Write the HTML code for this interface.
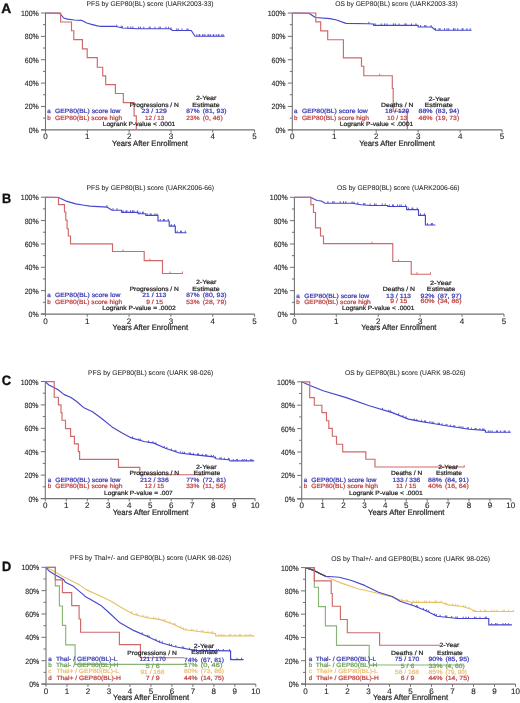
<!DOCTYPE html><html><head><meta charset="utf-8"><style>html,body{margin:0;padding:0;background:#fff;}svg{display:block;will-change:transform;}text{font-family:"Liberation Sans",sans-serif;text-rendering:geometricPrecision;}</style></head><body>
<svg width="520" height="703" viewBox="0 0 520 703">
<rect width="520" height="703" fill="#fff"/>
<text x="1.20" y="13.30" font-size="13.5" fill="#111" stroke="#111" stroke-width="0.35" font-weight="bold" textLength="10.00" lengthAdjust="spacingAndGlyphs">A</text>
<path d="M45.50 13.00V129.80" stroke="#727272" stroke-width="1.1" fill="none"/>
<path d="M41.00 129.80H45.50M43.00 118.12H45.50M41.00 106.44H45.50M43.00 94.76H45.50M41.00 83.08H45.50M43.00 71.40H45.50M41.00 59.72H45.50M43.00 48.04H45.50M41.00 36.36H45.50M43.00 24.68H45.50M41.00 13.00H45.50" stroke="#727272" stroke-width="1" fill="none"/>
<text x="38.80" y="132.80" font-size="7.7" fill="#262626" stroke="#262626" stroke-width="0.12" text-anchor="end" textLength="10.13" lengthAdjust="spacingAndGlyphs">0%</text>
<text x="38.80" y="109.44" font-size="7.7" fill="#262626" stroke="#262626" stroke-width="0.12" text-anchor="end" textLength="14.02" lengthAdjust="spacingAndGlyphs">20%</text>
<text x="38.80" y="86.08" font-size="7.7" fill="#262626" stroke="#262626" stroke-width="0.12" text-anchor="end" textLength="14.02" lengthAdjust="spacingAndGlyphs">40%</text>
<text x="38.80" y="62.72" font-size="7.7" fill="#262626" stroke="#262626" stroke-width="0.12" text-anchor="end" textLength="14.02" lengthAdjust="spacingAndGlyphs">60%</text>
<text x="38.80" y="39.36" font-size="7.7" fill="#262626" stroke="#262626" stroke-width="0.12" text-anchor="end" textLength="14.02" lengthAdjust="spacingAndGlyphs">80%</text>
<text x="38.80" y="16.00" font-size="7.7" fill="#262626" stroke="#262626" stroke-width="0.12" text-anchor="end" textLength="17.92" lengthAdjust="spacingAndGlyphs">100%</text>
<path d="M41.00 129.80H254.60" stroke="#727272" stroke-width="1.25" fill="none"/>
<path d="M45.50 129.80V132.60M87.32 129.80V132.60M129.14 129.80V132.60M170.96 129.80V132.60M212.78 129.80V132.60M254.60 129.80V132.60" stroke="#727272" stroke-width="1" fill="none"/>
<text x="45.50" y="139.30" font-size="8.0" fill="#262626" stroke="#262626" stroke-width="0.12" text-anchor="middle">0</text>
<text x="87.32" y="139.30" font-size="8.0" fill="#262626" stroke="#262626" stroke-width="0.12" text-anchor="middle">1</text>
<text x="129.14" y="139.30" font-size="8.0" fill="#262626" stroke="#262626" stroke-width="0.12" text-anchor="middle">2</text>
<text x="170.96" y="139.30" font-size="8.0" fill="#262626" stroke="#262626" stroke-width="0.12" text-anchor="middle">3</text>
<text x="212.78" y="139.30" font-size="8.0" fill="#262626" stroke="#262626" stroke-width="0.12" text-anchor="middle">4</text>
<text x="254.60" y="139.30" font-size="8.0" fill="#262626" stroke="#262626" stroke-width="0.12" text-anchor="middle">5</text>
<text x="86.50" y="6.00" font-size="6.8" fill="#262626" stroke="#262626" stroke-width="0.05" textLength="127.00" lengthAdjust="spacingAndGlyphs">PFS by GEP80(BL) score (UARK2003-33)</text>
<path d="M45.50 13.00 L59.80 13.30 L63.70 18.00 L67.50 19.10 L74.20 20.00 L81.90 20.40 L86.70 23.00 L91.50 24.40 L97.30 25.90 L100.20 26.30 L115.00 26.30 L122.50 28.00 L137.50 28.70 L170.00 28.70 L172.50 30.50 L191.30 30.50 L195.00 36.20 L224.70 36.20" stroke="#4646cc" stroke-width="1.15" fill="none" stroke-linejoin="round"/>
<path d="M116.73 26.69V24.69M121.13 27.69V25.69M122.37 27.97V25.97M127.83 28.25V26.25M130.83 28.39V26.39M132.88 28.48V26.48M138.66 28.70V26.70M140.42 28.70V26.70M143.81 28.70V26.70M149.05 28.70V26.70M150.19 28.70V26.70M154.94 28.70V26.70M158.98 28.70V26.70M160.36 28.70V26.70M165.99 28.70V26.70M168.62 28.70V26.70M171.00 29.42V27.42M176.71 30.50V28.50M178.23 30.50V28.50M182.01 30.50V28.50M186.97 30.50V28.50M188.09 30.50V28.50" stroke="#4646cc" stroke-width="0.9" fill="none"/>
<path d="M196.88 36.20V34.20M199.11 36.20V34.20M199.73 36.20V34.20M202.50 36.20V34.20M204.02 36.20V34.20M205.06 36.20V34.20M207.99 36.20V34.20M208.88 36.20V34.20M210.59 36.20V34.20M213.25 36.20V34.20M213.83 36.20V34.20M216.23 36.20V34.20M218.28 36.20V34.20M218.98 36.20V34.20M221.83 36.20V34.20M223.16 36.20V34.20" stroke="#4646cc" stroke-width="0.9" fill="none"/>
<path d="M45.50 13.00H60.60V22.00H71.50V30.70H73.80V39.60H82.40V48.90H87.20V57.60H97.30V67.20H102.70V75.80H105.70V84.60H115.40V93.50H123.30V102.60H134.10V115.90H136.30V129.50H136.30" stroke="#cf6868" stroke-width="1.15" fill="none"/>
<text x="195.90" y="100.30" font-size="6.2" fill="#262626" stroke="#262626" stroke-width="0.22" textLength="20.50" lengthAdjust="spacingAndGlyphs">2-Year</text>
<text x="129.70" y="106.90" font-size="6.2" fill="#262626" stroke="#262626" stroke-width="0.22" textLength="49.20" lengthAdjust="spacingAndGlyphs">Progressions / N</text>
<text x="192.30" y="106.90" font-size="6.2" fill="#262626" stroke="#262626" stroke-width="0.22" textLength="27.30" lengthAdjust="spacingAndGlyphs">Estimate</text>
<text x="47.30" y="113.20" font-size="6.2" fill="#3838b4" stroke="#3838b4" stroke-width="0.22">a</text>
<text x="55.00" y="113.20" font-size="6.2" fill="#3838b4" stroke="#3838b4" stroke-width="0.22" textLength="65.40" lengthAdjust="spacingAndGlyphs">GEP80(BL) score low</text>
<text x="141.50" y="113.40" font-size="6.2" fill="#3838b4" stroke="#3838b4" stroke-width="0.22" textLength="25.40" lengthAdjust="spacingAndGlyphs">23 / 129</text>
<text x="186.30" y="113.40" font-size="6.2" fill="#3838b4" stroke="#3838b4" stroke-width="0.22" textLength="13.20" lengthAdjust="spacingAndGlyphs">87%</text>
<text x="202.80" y="113.40" font-size="6.2" fill="#3838b4" stroke="#3838b4" stroke-width="0.22" textLength="23.70" lengthAdjust="spacingAndGlyphs">(81, 93)</text>
<text x="47.30" y="120.00" font-size="6.2" fill="#c04242" stroke="#c04242" stroke-width="0.22">b</text>
<text x="55.00" y="120.00" font-size="6.2" fill="#c04242" stroke="#c04242" stroke-width="0.22" textLength="67.30" lengthAdjust="spacingAndGlyphs">GEP80(BL) score high</text>
<text x="145.10" y="120.30" font-size="6.2" fill="#c04242" stroke="#c04242" stroke-width="0.22" textLength="19.00" lengthAdjust="spacingAndGlyphs">12 / 13</text>
<text x="186.30" y="120.30" font-size="6.2" fill="#c04242" stroke="#c04242" stroke-width="0.22" textLength="13.20" lengthAdjust="spacingAndGlyphs">23%</text>
<text x="202.80" y="120.30" font-size="6.2" fill="#c04242" stroke="#c04242" stroke-width="0.22" textLength="19.90" lengthAdjust="spacingAndGlyphs">(0, 46)</text>
<text x="102.70" y="126.30" font-size="6.2" fill="#262626" stroke="#262626" stroke-width="0.22" textLength="72.60" lengthAdjust="spacingAndGlyphs">Logrank P-value &lt; .0001</text>
<text x="112.10" y="145.80" font-size="8" fill="#262626" stroke="#262626" stroke-width="0.22" textLength="75.80" lengthAdjust="spacingAndGlyphs">Years After Enrollment</text>
<path d="M292.30 13.00V129.80" stroke="#727272" stroke-width="1.1" fill="none"/>
<path d="M287.80 129.80H292.30M289.80 118.12H292.30M287.80 106.44H292.30M289.80 94.76H292.30M287.80 83.08H292.30M289.80 71.40H292.30M287.80 59.72H292.30M289.80 48.04H292.30M287.80 36.36H292.30M289.80 24.68H292.30M287.80 13.00H292.30" stroke="#727272" stroke-width="1" fill="none"/>
<text x="285.60" y="132.80" font-size="7.7" fill="#262626" stroke="#262626" stroke-width="0.12" text-anchor="end" textLength="10.13" lengthAdjust="spacingAndGlyphs">0%</text>
<text x="285.60" y="109.44" font-size="7.7" fill="#262626" stroke="#262626" stroke-width="0.12" text-anchor="end" textLength="14.02" lengthAdjust="spacingAndGlyphs">20%</text>
<text x="285.60" y="86.08" font-size="7.7" fill="#262626" stroke="#262626" stroke-width="0.12" text-anchor="end" textLength="14.02" lengthAdjust="spacingAndGlyphs">40%</text>
<text x="285.60" y="62.72" font-size="7.7" fill="#262626" stroke="#262626" stroke-width="0.12" text-anchor="end" textLength="14.02" lengthAdjust="spacingAndGlyphs">60%</text>
<text x="285.60" y="39.36" font-size="7.7" fill="#262626" stroke="#262626" stroke-width="0.12" text-anchor="end" textLength="14.02" lengthAdjust="spacingAndGlyphs">80%</text>
<text x="285.60" y="16.00" font-size="7.7" fill="#262626" stroke="#262626" stroke-width="0.12" text-anchor="end" textLength="17.92" lengthAdjust="spacingAndGlyphs">100%</text>
<path d="M287.80 129.80H502.10" stroke="#727272" stroke-width="1.25" fill="none"/>
<path d="M292.30 129.80V132.60M334.26 129.80V132.60M376.22 129.80V132.60M418.18 129.80V132.60M460.14 129.80V132.60M502.10 129.80V132.60" stroke="#727272" stroke-width="1" fill="none"/>
<text x="292.30" y="139.30" font-size="8.0" fill="#262626" stroke="#262626" stroke-width="0.12" text-anchor="middle">0</text>
<text x="334.26" y="139.30" font-size="8.0" fill="#262626" stroke="#262626" stroke-width="0.12" text-anchor="middle">1</text>
<text x="376.22" y="139.30" font-size="8.0" fill="#262626" stroke="#262626" stroke-width="0.12" text-anchor="middle">2</text>
<text x="418.18" y="139.30" font-size="8.0" fill="#262626" stroke="#262626" stroke-width="0.12" text-anchor="middle">3</text>
<text x="460.14" y="139.30" font-size="8.0" fill="#262626" stroke="#262626" stroke-width="0.12" text-anchor="middle">4</text>
<text x="502.10" y="139.30" font-size="8.0" fill="#262626" stroke="#262626" stroke-width="0.12" text-anchor="middle">5</text>
<text x="335.20" y="6.00" font-size="6.8" fill="#262626" stroke="#262626" stroke-width="0.05" textLength="122.50" lengthAdjust="spacingAndGlyphs">OS by GEP80(BL) score (UARK2003-33)</text>
<path d="M292.30 13.00 L309.00 13.20 L315.40 17.50 L330.00 18.60 L336.50 20.00 L346.00 23.40 L368.30 23.80 L373.00 24.00 L373.70 25.40 L418.20 25.40 L418.20 27.00 L431.60 27.00 L435.70 30.20 L471.50 30.20" stroke="#4646cc" stroke-width="1.15" fill="none" stroke-linejoin="round"/>
<path d="M368.92 23.83V21.83M373.83 25.40V23.40M375.20 25.40V23.40M381.28 25.40V23.40M384.62 25.40V23.40M386.91 25.40V23.40M393.34 25.40V23.40M395.30 25.40V23.40M399.07 25.40V23.40M404.91 25.40V23.40M406.18 25.40V23.40M411.47 25.40V23.40M415.97 25.40V23.40" stroke="#4646cc" stroke-width="0.9" fill="none"/>
<path d="M420.62 27.00V25.00M424.77 27.00V25.00M425.93 27.00V25.00M431.07 27.00V25.00" stroke="#4646cc" stroke-width="0.9" fill="none"/>
<path d="M435.42 29.98V27.98M439.05 30.20V28.20M440.07 30.20V28.20M444.57 30.20V28.20M447.04 30.20V28.20M448.73 30.20V28.20M453.49 30.20V28.20M454.94 30.20V28.20M457.73 30.20V28.20M462.05 30.20V28.20M462.99 30.20V28.20M466.91 30.20V28.20M470.23 30.20V28.20" stroke="#4646cc" stroke-width="0.9" fill="none"/>
<path d="M292.30 13.00H315.80V21.80H320.70V30.80H327.70V39.70H343.40V57.90H361.50V66.20H363.80V75.70H392.30V88.50H393.20V111.20H407.30V129.50H407.30" stroke="#cf6868" stroke-width="1.15" fill="none"/>
<path d="M379.70 75.70V73.70" stroke="#cf6868" stroke-width="0.9" fill="none"/>
<text x="428.50" y="100.60" font-size="6.2" fill="#262626" stroke="#262626" stroke-width="0.22" textLength="21.20" lengthAdjust="spacingAndGlyphs">2-Year</text>
<text x="381.00" y="107.10" font-size="6.2" fill="#262626" stroke="#262626" stroke-width="0.22" textLength="32.40" lengthAdjust="spacingAndGlyphs">Deaths / N</text>
<text x="424.50" y="107.10" font-size="6.2" fill="#262626" stroke="#262626" stroke-width="0.22" textLength="28.30" lengthAdjust="spacingAndGlyphs">Estimate</text>
<text x="294.00" y="113.10" font-size="6.2" fill="#3838b4" stroke="#3838b4" stroke-width="0.22">a</text>
<text x="301.90" y="113.10" font-size="6.2" fill="#3838b4" stroke="#3838b4" stroke-width="0.22" textLength="65.80" lengthAdjust="spacingAndGlyphs">GEP80(BL) score low</text>
<text x="385.10" y="113.10" font-size="6.2" fill="#3838b4" stroke="#3838b4" stroke-width="0.22" textLength="24.20" lengthAdjust="spacingAndGlyphs">18 / 129</text>
<text x="418.60" y="113.20" font-size="6.2" fill="#3838b4" stroke="#3838b4" stroke-width="0.22" textLength="14.00" lengthAdjust="spacingAndGlyphs">88%</text>
<text x="435.60" y="113.20" font-size="6.2" fill="#3838b4" stroke="#3838b4" stroke-width="0.22" textLength="23.60" lengthAdjust="spacingAndGlyphs">(83, 94)</text>
<text x="294.00" y="119.50" font-size="6.2" fill="#c04242" stroke="#c04242" stroke-width="0.22">b</text>
<text x="301.90" y="119.50" font-size="6.2" fill="#c04242" stroke="#c04242" stroke-width="0.22" textLength="67.10" lengthAdjust="spacingAndGlyphs">GEP80(BL) score high</text>
<text x="387.10" y="119.50" font-size="6.2" fill="#c04242" stroke="#c04242" stroke-width="0.22" textLength="20.20" lengthAdjust="spacingAndGlyphs">10 / 13</text>
<text x="418.60" y="119.50" font-size="6.2" fill="#c04242" stroke="#c04242" stroke-width="0.22" textLength="14.00" lengthAdjust="spacingAndGlyphs">46%</text>
<text x="435.60" y="119.50" font-size="6.2" fill="#c04242" stroke="#c04242" stroke-width="0.22" textLength="23.60" lengthAdjust="spacingAndGlyphs">(19, 73)</text>
<text x="339.70" y="125.80" font-size="6.2" fill="#262626" stroke="#262626" stroke-width="0.22" textLength="73.70" lengthAdjust="spacingAndGlyphs">Logrank P-value &lt; .0001</text>
<text x="359.20" y="145.80" font-size="8" fill="#262626" stroke="#262626" stroke-width="0.22" textLength="75.80" lengthAdjust="spacingAndGlyphs">Years After Enrollment</text>
<text x="1.90" y="202.60" font-size="13.5" fill="#111" stroke="#111" stroke-width="0.3" font-weight="bold" textLength="9.20" lengthAdjust="spacingAndGlyphs">B</text>
<path d="M45.40 197.20V314.00" stroke="#727272" stroke-width="1.1" fill="none"/>
<path d="M40.90 314.00H45.40M42.90 302.32H45.40M40.90 290.64H45.40M42.90 278.96H45.40M40.90 267.28H45.40M42.90 255.60H45.40M40.90 243.92H45.40M42.90 232.24H45.40M40.90 220.56H45.40M42.90 208.88H45.40M40.90 197.20H45.40" stroke="#727272" stroke-width="1" fill="none"/>
<text x="38.70" y="317.00" font-size="7.7" fill="#262626" stroke="#262626" stroke-width="0.12" text-anchor="end" textLength="10.13" lengthAdjust="spacingAndGlyphs">0%</text>
<text x="38.70" y="293.64" font-size="7.7" fill="#262626" stroke="#262626" stroke-width="0.12" text-anchor="end" textLength="14.02" lengthAdjust="spacingAndGlyphs">20%</text>
<text x="38.70" y="270.28" font-size="7.7" fill="#262626" stroke="#262626" stroke-width="0.12" text-anchor="end" textLength="14.02" lengthAdjust="spacingAndGlyphs">40%</text>
<text x="38.70" y="246.92" font-size="7.7" fill="#262626" stroke="#262626" stroke-width="0.12" text-anchor="end" textLength="14.02" lengthAdjust="spacingAndGlyphs">60%</text>
<text x="38.70" y="223.56" font-size="7.7" fill="#262626" stroke="#262626" stroke-width="0.12" text-anchor="end" textLength="14.02" lengthAdjust="spacingAndGlyphs">80%</text>
<text x="38.70" y="200.20" font-size="7.7" fill="#262626" stroke="#262626" stroke-width="0.12" text-anchor="end" textLength="17.92" lengthAdjust="spacingAndGlyphs">100%</text>
<path d="M40.90 314.00H254.60" stroke="#727272" stroke-width="1.25" fill="none"/>
<path d="M45.40 314.00V316.80M87.24 314.00V316.80M129.08 314.00V316.80M170.92 314.00V316.80M212.76 314.00V316.80M254.60 314.00V316.80" stroke="#727272" stroke-width="1" fill="none"/>
<text x="45.40" y="323.50" font-size="8.0" fill="#262626" stroke="#262626" stroke-width="0.12" text-anchor="middle">0</text>
<text x="87.24" y="323.50" font-size="8.0" fill="#262626" stroke="#262626" stroke-width="0.12" text-anchor="middle">1</text>
<text x="129.08" y="323.50" font-size="8.0" fill="#262626" stroke="#262626" stroke-width="0.12" text-anchor="middle">2</text>
<text x="170.92" y="323.50" font-size="8.0" fill="#262626" stroke="#262626" stroke-width="0.12" text-anchor="middle">3</text>
<text x="212.76" y="323.50" font-size="8.0" fill="#262626" stroke="#262626" stroke-width="0.12" text-anchor="middle">4</text>
<text x="254.60" y="323.50" font-size="8.0" fill="#262626" stroke="#262626" stroke-width="0.12" text-anchor="middle">5</text>
<text x="86.50" y="189.80" font-size="6.8" fill="#262626" stroke="#262626" stroke-width="0.05" textLength="127.60" lengthAdjust="spacingAndGlyphs">PFS by GEP80(BL) score (UARK2006-66)</text>
<path d="M45.40 197.30 L58.50 197.50 L67.10 201.40 L75.60 203.90 L84.10 205.20 L90.00 206.10 L106.90 207.10 L112.10 210.20 L121.60 210.20 L121.60 212.30 L138.10 212.30 L138.10 213.70 L145.80 213.70 L145.80 215.40 L158.00 215.40 L158.00 221.00 L169.20 221.00 L169.20 226.10 L175.30 226.10 L175.30 232.70 L186.50 232.70" stroke="#4646cc" stroke-width="1.15" fill="none" stroke-linejoin="round"/>
<path d="M106.90 207.10V205.10M113.00 210.20V208.20M117.00 210.20V208.20" stroke="#4646cc" stroke-width="0.9" fill="none"/>
<path d="M123.14 212.30V210.30M126.06 212.30V210.30M126.87 212.30V210.30M130.49 212.30V210.30M132.47 212.30V210.30M133.83 212.30V210.30M137.66 212.30V210.30" stroke="#4646cc" stroke-width="0.9" fill="none"/>
<path d="M140.00 213.70V211.70M142.55 213.70V211.70M143.26 213.70V211.70" stroke="#4646cc" stroke-width="0.9" fill="none"/>
<path d="M147.20 215.40V213.40M150.26 215.40V213.40M151.12 215.40V213.40M154.91 215.40V213.40M157.00 215.40V213.40" stroke="#4646cc" stroke-width="0.9" fill="none"/>
<path d="M160.25 221.00V219.00M163.44 221.00V219.00M164.33 221.00V219.00M168.29 221.00V219.00" stroke="#4646cc" stroke-width="0.9" fill="none"/>
<path d="M171.25 226.10V224.10M174.44 226.10V224.10" stroke="#4646cc" stroke-width="0.9" fill="none"/>
<path d="M177.25 232.70V230.70M180.44 232.70V230.70M181.33 232.70V230.70M185.29 232.70V230.70" stroke="#4646cc" stroke-width="0.9" fill="none"/>
<path d="M45.40 197.30H58.50V204.60H64.50V212.00H65.80V220.20H67.10V228.70H68.30V236.00H70.50V243.80H112.50V251.50H144.20V260.60H162.50V273.50H182.70" stroke="#cf6868" stroke-width="1.15" fill="none"/>
<path d="M123.00 251.50V249.50M150.00 260.60V258.60M170.00 273.50V271.50M182.50 273.50V271.50" stroke="#cf6868" stroke-width="0.9" fill="none"/>
<text x="195.90" y="284.10" font-size="6.2" fill="#262626" stroke="#262626" stroke-width="0.22" textLength="20.50" lengthAdjust="spacingAndGlyphs">2-Year</text>
<text x="129.70" y="290.70" font-size="6.2" fill="#262626" stroke="#262626" stroke-width="0.22" textLength="49.20" lengthAdjust="spacingAndGlyphs">Progressions / N</text>
<text x="192.30" y="290.70" font-size="6.2" fill="#262626" stroke="#262626" stroke-width="0.22" textLength="27.30" lengthAdjust="spacingAndGlyphs">Estimate</text>
<text x="47.30" y="297.00" font-size="6.2" fill="#3838b4" stroke="#3838b4" stroke-width="0.22">a</text>
<text x="55.00" y="297.00" font-size="6.2" fill="#3838b4" stroke="#3838b4" stroke-width="0.22" textLength="65.40" lengthAdjust="spacingAndGlyphs">GEP80(BL) score low</text>
<text x="142.30" y="297.20" font-size="6.2" fill="#3838b4" stroke="#3838b4" stroke-width="0.22" textLength="24.00" lengthAdjust="spacingAndGlyphs">21 / 113</text>
<text x="186.30" y="297.20" font-size="6.2" fill="#3838b4" stroke="#3838b4" stroke-width="0.22" textLength="13.20" lengthAdjust="spacingAndGlyphs">87%</text>
<text x="202.80" y="297.20" font-size="6.2" fill="#3838b4" stroke="#3838b4" stroke-width="0.22" textLength="23.70" lengthAdjust="spacingAndGlyphs">(80, 93)</text>
<text x="47.30" y="303.80" font-size="6.2" fill="#c04242" stroke="#c04242" stroke-width="0.22">b</text>
<text x="55.00" y="303.80" font-size="6.2" fill="#c04242" stroke="#c04242" stroke-width="0.22" textLength="67.30" lengthAdjust="spacingAndGlyphs">GEP80(BL) score high</text>
<text x="146.20" y="304.10" font-size="6.2" fill="#c04242" stroke="#c04242" stroke-width="0.22" textLength="16.90" lengthAdjust="spacingAndGlyphs">9 / 15</text>
<text x="186.30" y="304.10" font-size="6.2" fill="#c04242" stroke="#c04242" stroke-width="0.22" textLength="13.20" lengthAdjust="spacingAndGlyphs">53%</text>
<text x="202.80" y="304.10" font-size="6.2" fill="#c04242" stroke="#c04242" stroke-width="0.22" textLength="23.70" lengthAdjust="spacingAndGlyphs">(28, 79)</text>
<text x="102.30" y="310.10" font-size="6.2" fill="#262626" stroke="#262626" stroke-width="0.22" textLength="73.50" lengthAdjust="spacingAndGlyphs">Logrank P-value = .0002</text>
<text x="112.50" y="329.60" font-size="8" fill="#262626" stroke="#262626" stroke-width="0.22" textLength="75.60" lengthAdjust="spacingAndGlyphs">Years After Enrollment</text>
<path d="M294.40 197.30V314.00" stroke="#727272" stroke-width="1.1" fill="none"/>
<path d="M289.90 314.00H294.40M291.90 302.33H294.40M289.90 290.66H294.40M291.90 278.99H294.40M289.90 267.32H294.40M291.90 255.65H294.40M289.90 243.98H294.40M291.90 232.31H294.40M289.90 220.64H294.40M291.90 208.97H294.40M289.90 197.30H294.40" stroke="#727272" stroke-width="1" fill="none"/>
<text x="287.70" y="317.00" font-size="7.7" fill="#262626" stroke="#262626" stroke-width="0.12" text-anchor="end" textLength="10.13" lengthAdjust="spacingAndGlyphs">0%</text>
<text x="287.70" y="293.66" font-size="7.7" fill="#262626" stroke="#262626" stroke-width="0.12" text-anchor="end" textLength="14.02" lengthAdjust="spacingAndGlyphs">20%</text>
<text x="287.70" y="270.32" font-size="7.7" fill="#262626" stroke="#262626" stroke-width="0.12" text-anchor="end" textLength="14.02" lengthAdjust="spacingAndGlyphs">40%</text>
<text x="287.70" y="246.98" font-size="7.7" fill="#262626" stroke="#262626" stroke-width="0.12" text-anchor="end" textLength="14.02" lengthAdjust="spacingAndGlyphs">60%</text>
<text x="287.70" y="223.64" font-size="7.7" fill="#262626" stroke="#262626" stroke-width="0.12" text-anchor="end" textLength="14.02" lengthAdjust="spacingAndGlyphs">80%</text>
<text x="287.70" y="200.30" font-size="7.7" fill="#262626" stroke="#262626" stroke-width="0.12" text-anchor="end" textLength="17.92" lengthAdjust="spacingAndGlyphs">100%</text>
<path d="M289.90 314.00H504.00" stroke="#727272" stroke-width="1.25" fill="none"/>
<path d="M294.40 314.00V316.80M336.32 314.00V316.80M378.24 314.00V316.80M420.16 314.00V316.80M462.08 314.00V316.80M504.00 314.00V316.80" stroke="#727272" stroke-width="1" fill="none"/>
<text x="294.40" y="323.50" font-size="8.0" fill="#262626" stroke="#262626" stroke-width="0.12" text-anchor="middle">0</text>
<text x="336.32" y="323.50" font-size="8.0" fill="#262626" stroke="#262626" stroke-width="0.12" text-anchor="middle">1</text>
<text x="378.24" y="323.50" font-size="8.0" fill="#262626" stroke="#262626" stroke-width="0.12" text-anchor="middle">2</text>
<text x="420.16" y="323.50" font-size="8.0" fill="#262626" stroke="#262626" stroke-width="0.12" text-anchor="middle">3</text>
<text x="462.08" y="323.50" font-size="8.0" fill="#262626" stroke="#262626" stroke-width="0.12" text-anchor="middle">4</text>
<text x="504.00" y="323.50" font-size="8.0" fill="#262626" stroke="#262626" stroke-width="0.12" text-anchor="middle">5</text>
<text x="337.10" y="189.80" font-size="6.8" fill="#262626" stroke="#262626" stroke-width="0.05" textLength="122.50" lengthAdjust="spacingAndGlyphs">OS by GEP80(BL) score (UARK2006-66)</text>
<path d="M294.40 197.30 L310.90 197.40 L317.10 200.50 L321.30 201.00 L324.70 203.10 L352.00 203.30 L361.40 204.80 L370.00 205.50 L387.70 205.50 L387.70 206.50 L406.60 206.50 L406.60 209.60 L418.50 209.60 L418.50 215.30 L425.40 215.30 L425.40 225.00 L435.40 225.00" stroke="#4646cc" stroke-width="1.15" fill="none" stroke-linejoin="round"/>
<path d="M327.91 203.12V201.12M332.77 203.16V201.16M334.13 203.17V201.17M340.16 203.21V201.21M343.47 203.24V201.24M345.73 203.25V201.25M352.11 203.32V201.32M354.05 203.63V201.63M357.79 204.22V202.22M363.57 204.98V202.98M364.84 205.08V203.08M370.08 205.50V203.50M374.54 205.50V203.50M376.06 205.50V203.50M382.28 205.50V203.50M385.17 205.50V203.50" stroke="#4646cc" stroke-width="0.9" fill="none"/>
<path d="M389.29 206.50V204.50M392.57 206.50V204.50M393.48 206.50V204.50M397.55 206.50V204.50M399.78 206.50V204.50M401.31 206.50V204.50M405.61 206.50V204.50" stroke="#4646cc" stroke-width="0.9" fill="none"/>
<path d="M408.38 209.60V207.60M411.88 209.60V207.60M412.86 209.60V207.60M417.21 209.60V207.60" stroke="#4646cc" stroke-width="0.9" fill="none"/>
<path d="M420.50 215.30V213.30M424.33 215.30V213.30" stroke="#4646cc" stroke-width="0.9" fill="none"/>
<path d="M427.50 225.00V223.00M431.33 225.00V223.00M432.40 225.00V223.00" stroke="#4646cc" stroke-width="0.9" fill="none"/>
<path d="M294.40 197.30H310.90V204.60H313.50V212.50H315.50V227.80H320.50V236.00H323.50V243.60H392.80V261.50H411.20V274.20H430.80" stroke="#cf6868" stroke-width="1.15" fill="none"/>
<path d="M372.00 243.60V241.60M398.50 261.50V259.50M417.00 274.20V272.20M430.50 274.20V272.20" stroke="#cf6868" stroke-width="0.9" fill="none"/>
<text x="430.00" y="284.80" font-size="6.2" fill="#262626" stroke="#262626" stroke-width="0.22" textLength="21.40" lengthAdjust="spacingAndGlyphs">2-Year</text>
<text x="382.70" y="291.10" font-size="6.2" fill="#262626" stroke="#262626" stroke-width="0.22" textLength="32.30" lengthAdjust="spacingAndGlyphs">Deaths / N</text>
<text x="426.80" y="291.10" font-size="6.2" fill="#262626" stroke="#262626" stroke-width="0.22" textLength="28.40" lengthAdjust="spacingAndGlyphs">Estimate</text>
<text x="296.20" y="297.70" font-size="6.2" fill="#3838b4" stroke="#3838b4" stroke-width="0.22">a</text>
<text x="304.20" y="297.70" font-size="6.2" fill="#3838b4" stroke="#3838b4" stroke-width="0.22" textLength="65.00" lengthAdjust="spacingAndGlyphs">GEP80(BL) score low</text>
<text x="386.10" y="297.50" font-size="6.2" fill="#3838b4" stroke="#3838b4" stroke-width="0.22" textLength="24.90" lengthAdjust="spacingAndGlyphs">13 / 113</text>
<text x="420.60" y="297.60" font-size="6.2" fill="#3838b4" stroke="#3838b4" stroke-width="0.22" textLength="14.00" lengthAdjust="spacingAndGlyphs">92%</text>
<text x="437.60" y="297.60" font-size="6.2" fill="#3838b4" stroke="#3838b4" stroke-width="0.22" textLength="23.90" lengthAdjust="spacingAndGlyphs">(87, 97)</text>
<text x="296.20" y="303.50" font-size="6.2" fill="#c04242" stroke="#c04242" stroke-width="0.22">b</text>
<text x="304.20" y="303.50" font-size="6.2" fill="#c04242" stroke="#c04242" stroke-width="0.22" textLength="66.60" lengthAdjust="spacingAndGlyphs">GEP80(BL) score high</text>
<text x="390.20" y="303.40" font-size="6.2" fill="#c04242" stroke="#c04242" stroke-width="0.22" textLength="17.10" lengthAdjust="spacingAndGlyphs">9 / 15</text>
<text x="420.60" y="303.40" font-size="6.2" fill="#c04242" stroke="#c04242" stroke-width="0.22" textLength="14.00" lengthAdjust="spacingAndGlyphs">60%</text>
<text x="437.60" y="303.40" font-size="6.2" fill="#c04242" stroke="#c04242" stroke-width="0.22" textLength="23.90" lengthAdjust="spacingAndGlyphs">(34, 86)</text>
<text x="342.10" y="310.30" font-size="6.2" fill="#262626" stroke="#262626" stroke-width="0.22" textLength="72.30" lengthAdjust="spacingAndGlyphs">Logrank P-value &lt; .0001</text>
<text x="361.20" y="329.60" font-size="8" fill="#262626" stroke="#262626" stroke-width="0.22" textLength="75.30" lengthAdjust="spacingAndGlyphs">Years After Enrollment</text>
<text x="1.70" y="385.20" font-size="13.5" fill="#111" stroke="#111" stroke-width="0.35" font-weight="bold" textLength="9.30" lengthAdjust="spacingAndGlyphs">C</text>
<path d="M45.30 381.50V498.50" stroke="#727272" stroke-width="1.1" fill="none"/>
<path d="M40.80 498.50H45.30M42.80 486.80H45.30M40.80 475.10H45.30M42.80 463.40H45.30M40.80 451.70H45.30M42.80 440.00H45.30M40.80 428.30H45.30M42.80 416.60H45.30M40.80 404.90H45.30M42.80 393.20H45.30M40.80 381.50H45.30" stroke="#727272" stroke-width="1" fill="none"/>
<text x="38.60" y="501.50" font-size="7.7" fill="#262626" stroke="#262626" stroke-width="0.12" text-anchor="end" textLength="10.13" lengthAdjust="spacingAndGlyphs">0%</text>
<text x="38.60" y="478.10" font-size="7.7" fill="#262626" stroke="#262626" stroke-width="0.12" text-anchor="end" textLength="14.02" lengthAdjust="spacingAndGlyphs">20%</text>
<text x="38.60" y="454.70" font-size="7.7" fill="#262626" stroke="#262626" stroke-width="0.12" text-anchor="end" textLength="14.02" lengthAdjust="spacingAndGlyphs">40%</text>
<text x="38.60" y="431.30" font-size="7.7" fill="#262626" stroke="#262626" stroke-width="0.12" text-anchor="end" textLength="14.02" lengthAdjust="spacingAndGlyphs">60%</text>
<text x="38.60" y="407.90" font-size="7.7" fill="#262626" stroke="#262626" stroke-width="0.12" text-anchor="end" textLength="14.02" lengthAdjust="spacingAndGlyphs">80%</text>
<text x="38.60" y="384.50" font-size="7.7" fill="#262626" stroke="#262626" stroke-width="0.12" text-anchor="end" textLength="17.92" lengthAdjust="spacingAndGlyphs">100%</text>
<path d="M40.80 498.50H255.10" stroke="#727272" stroke-width="1.25" fill="none"/>
<path d="M45.30 498.50V501.30M66.28 498.50V501.30M87.26 498.50V501.30M108.24 498.50V501.30M129.22 498.50V501.30M150.20 498.50V501.30M171.18 498.50V501.30M192.16 498.50V501.30M213.14 498.50V501.30M234.12 498.50V501.30M255.10 498.50V501.30" stroke="#727272" stroke-width="1" fill="none"/>
<text x="45.30" y="508.00" font-size="8.0" fill="#262626" stroke="#262626" stroke-width="0.12" text-anchor="middle">0</text>
<text x="66.28" y="508.00" font-size="8.0" fill="#262626" stroke="#262626" stroke-width="0.12" text-anchor="middle">1</text>
<text x="87.26" y="508.00" font-size="8.0" fill="#262626" stroke="#262626" stroke-width="0.12" text-anchor="middle">2</text>
<text x="108.24" y="508.00" font-size="8.0" fill="#262626" stroke="#262626" stroke-width="0.12" text-anchor="middle">3</text>
<text x="129.22" y="508.00" font-size="8.0" fill="#262626" stroke="#262626" stroke-width="0.12" text-anchor="middle">4</text>
<text x="150.20" y="508.00" font-size="8.0" fill="#262626" stroke="#262626" stroke-width="0.12" text-anchor="middle">5</text>
<text x="171.18" y="508.00" font-size="8.0" fill="#262626" stroke="#262626" stroke-width="0.12" text-anchor="middle">6</text>
<text x="192.16" y="508.00" font-size="8.0" fill="#262626" stroke="#262626" stroke-width="0.12" text-anchor="middle">7</text>
<text x="213.14" y="508.00" font-size="8.0" fill="#262626" stroke="#262626" stroke-width="0.12" text-anchor="middle">8</text>
<text x="234.12" y="508.00" font-size="8.0" fill="#262626" stroke="#262626" stroke-width="0.12" text-anchor="middle">9</text>
<text x="255.10" y="508.00" font-size="8.0" fill="#262626" stroke="#262626" stroke-width="0.12" text-anchor="middle">10</text>
<text x="88.10" y="374.60" font-size="6.8" fill="#262626" stroke="#262626" stroke-width="0.05" textLength="125.20" lengthAdjust="spacingAndGlyphs">PFS by GEP80(BL) score (UARK 98-026)</text>
<path d="M45.30 381.60 L48.80 385.00 L54.00 387.60 L57.80 389.50 L64.20 394.60 L70.60 397.20 L77.00 401.70 L83.40 407.40 L92.50 411.80 L101.70 418.50 L112.00 426.90 L121.70 432.70 L131.30 437.90 L144.00 441.50 L153.80 443.10 L165.40 448.20 L179.20 453.00 L193.10 454.60 L213.80 456.90 L216.20 458.80 L228.80 459.70 L230.00 460.80 L254.20 460.80" stroke="#4646cc" stroke-width="1.15" fill="none" stroke-linejoin="round"/>
<path d="M132.50 438.24V436.44M138.88 440.05V438.25M140.66 440.55V438.75M148.57 442.25V440.45M152.91 442.96V441.16M155.88 444.01V442.21M164.25 447.69V445.89M166.79 448.68V446.88" stroke="#4646cc" stroke-width="0.9" fill="none"/>
<path d="M171.40 450.29V448.49M174.97 451.53V449.73M175.97 451.88V450.08M180.40 453.14V451.34M182.83 453.42V451.62M184.49 453.61V451.81M189.18 454.15V452.35M190.60 454.31V452.51M193.35 454.63V452.83M197.60 455.10V453.30M198.52 455.20V453.40M202.37 455.63V453.83M205.65 455.99V454.19M206.77 456.12V454.32M211.33 456.63V454.83M213.46 456.86V455.06M215.39 458.16V456.36M220.02 459.07V457.27M221.25 459.16V457.36M224.31 459.38V457.58M228.33 459.67V457.87M229.24 460.11V458.31M233.34 460.80V459.00M236.30 460.80V459.00M237.59 460.80V459.00M242.24 460.80V459.00M244.09 460.80V459.00M246.31 460.80V459.00M250.84 460.80V459.00M251.91 460.80V459.00" stroke="#4646cc" stroke-width="0.9" fill="none"/>
<path d="M45.30 381.60H54.20V397.20H58.40V404.90H61.00V412.60H62.00V420.20H65.50V428.60H70.60V436.30H74.40V443.90H78.30V451.60H79.60V459.30H118.50V467.30H139.80V474.70H205.00" stroke="#cf6868" stroke-width="1.15" fill="none"/>
<text x="195.90" y="468.60" font-size="6.2" fill="#262626" stroke="#262626" stroke-width="0.22" textLength="20.70" lengthAdjust="spacingAndGlyphs">2-Year</text>
<text x="129.60" y="475.20" font-size="6.2" fill="#262626" stroke="#262626" stroke-width="0.22" textLength="49.60" lengthAdjust="spacingAndGlyphs">Progressions / N</text>
<text x="193.50" y="475.20" font-size="6.2" fill="#262626" stroke="#262626" stroke-width="0.22" textLength="26.80" lengthAdjust="spacingAndGlyphs">Estimate</text>
<text x="47.80" y="481.50" font-size="6.2" fill="#3838b4" stroke="#3838b4" stroke-width="0.22">a</text>
<text x="55.20" y="481.50" font-size="6.2" fill="#3838b4" stroke="#3838b4" stroke-width="0.22" textLength="65.30" lengthAdjust="spacingAndGlyphs">GEP80(BL) score low</text>
<text x="140.00" y="481.70" font-size="6.2" fill="#3838b4" stroke="#3838b4" stroke-width="0.22" textLength="28.80" lengthAdjust="spacingAndGlyphs">212 / 336</text>
<text x="186.20" y="481.70" font-size="6.2" fill="#3838b4" stroke="#3838b4" stroke-width="0.22" textLength="13.20" lengthAdjust="spacingAndGlyphs">77%</text>
<text x="202.70" y="481.70" font-size="6.2" fill="#3838b4" stroke="#3838b4" stroke-width="0.22" textLength="23.20" lengthAdjust="spacingAndGlyphs">(72, 81)</text>
<text x="47.80" y="487.50" font-size="6.2" fill="#c04242" stroke="#c04242" stroke-width="0.22">b</text>
<text x="55.20" y="487.50" font-size="6.2" fill="#c04242" stroke="#c04242" stroke-width="0.22" textLength="67.20" lengthAdjust="spacingAndGlyphs">GEP80(BL) score high</text>
<text x="144.60" y="487.90" font-size="6.2" fill="#c04242" stroke="#c04242" stroke-width="0.22" textLength="19.60" lengthAdjust="spacingAndGlyphs">12 / 15</text>
<text x="186.20" y="487.90" font-size="6.2" fill="#c04242" stroke="#c04242" stroke-width="0.22" textLength="13.20" lengthAdjust="spacingAndGlyphs">33%</text>
<text x="202.70" y="487.90" font-size="6.2" fill="#c04242" stroke="#c04242" stroke-width="0.22" textLength="23.20" lengthAdjust="spacingAndGlyphs">(11, 56)</text>
<text x="104.00" y="494.50" font-size="6.2" fill="#262626" stroke="#262626" stroke-width="0.22" textLength="68.80" lengthAdjust="spacingAndGlyphs">Logrank P-value = .007</text>
<text x="112.70" y="514.50" font-size="8" fill="#262626" stroke="#262626" stroke-width="0.22" textLength="75.80" lengthAdjust="spacingAndGlyphs">Years After Enrollment</text>
<path d="M301.70 381.80V498.80" stroke="#727272" stroke-width="1.1" fill="none"/>
<path d="M297.20 498.80H301.70M299.20 487.10H301.70M297.20 475.40H301.70M299.20 463.70H301.70M297.20 452.00H301.70M299.20 440.30H301.70M297.20 428.60H301.70M299.20 416.90H301.70M297.20 405.20H301.70M299.20 393.50H301.70M297.20 381.80H301.70" stroke="#727272" stroke-width="1" fill="none"/>
<text x="295.00" y="501.80" font-size="7.7" fill="#262626" stroke="#262626" stroke-width="0.12" text-anchor="end" textLength="10.13" lengthAdjust="spacingAndGlyphs">0%</text>
<text x="295.00" y="478.40" font-size="7.7" fill="#262626" stroke="#262626" stroke-width="0.12" text-anchor="end" textLength="14.02" lengthAdjust="spacingAndGlyphs">20%</text>
<text x="295.00" y="455.00" font-size="7.7" fill="#262626" stroke="#262626" stroke-width="0.12" text-anchor="end" textLength="14.02" lengthAdjust="spacingAndGlyphs">40%</text>
<text x="295.00" y="431.60" font-size="7.7" fill="#262626" stroke="#262626" stroke-width="0.12" text-anchor="end" textLength="14.02" lengthAdjust="spacingAndGlyphs">60%</text>
<text x="295.00" y="408.20" font-size="7.7" fill="#262626" stroke="#262626" stroke-width="0.12" text-anchor="end" textLength="14.02" lengthAdjust="spacingAndGlyphs">80%</text>
<text x="295.00" y="384.80" font-size="7.7" fill="#262626" stroke="#262626" stroke-width="0.12" text-anchor="end" textLength="17.92" lengthAdjust="spacingAndGlyphs">100%</text>
<path d="M297.20 498.80H510.80" stroke="#727272" stroke-width="1.25" fill="none"/>
<path d="M301.70 498.80V501.60M322.61 498.80V501.60M343.52 498.80V501.60M364.43 498.80V501.60M385.34 498.80V501.60M406.25 498.80V501.60M427.16 498.80V501.60M448.07 498.80V501.60M468.98 498.80V501.60M489.89 498.80V501.60M510.80 498.80V501.60" stroke="#727272" stroke-width="1" fill="none"/>
<text x="301.70" y="508.30" font-size="8.0" fill="#262626" stroke="#262626" stroke-width="0.12" text-anchor="middle">0</text>
<text x="322.61" y="508.30" font-size="8.0" fill="#262626" stroke="#262626" stroke-width="0.12" text-anchor="middle">1</text>
<text x="343.52" y="508.30" font-size="8.0" fill="#262626" stroke="#262626" stroke-width="0.12" text-anchor="middle">2</text>
<text x="364.43" y="508.30" font-size="8.0" fill="#262626" stroke="#262626" stroke-width="0.12" text-anchor="middle">3</text>
<text x="385.34" y="508.30" font-size="8.0" fill="#262626" stroke="#262626" stroke-width="0.12" text-anchor="middle">4</text>
<text x="406.25" y="508.30" font-size="8.0" fill="#262626" stroke="#262626" stroke-width="0.12" text-anchor="middle">5</text>
<text x="427.16" y="508.30" font-size="8.0" fill="#262626" stroke="#262626" stroke-width="0.12" text-anchor="middle">6</text>
<text x="448.07" y="508.30" font-size="8.0" fill="#262626" stroke="#262626" stroke-width="0.12" text-anchor="middle">7</text>
<text x="468.98" y="508.30" font-size="8.0" fill="#262626" stroke="#262626" stroke-width="0.12" text-anchor="middle">8</text>
<text x="489.89" y="508.30" font-size="8.0" fill="#262626" stroke="#262626" stroke-width="0.12" text-anchor="middle">9</text>
<text x="510.80" y="508.30" font-size="8.0" fill="#262626" stroke="#262626" stroke-width="0.12" text-anchor="middle">10</text>
<text x="345.00" y="374.60" font-size="6.8" fill="#262626" stroke="#262626" stroke-width="0.05" textLength="120.60" lengthAdjust="spacingAndGlyphs">OS by GEP80(BL) score (UARK 98-026)</text>
<path d="M301.70 381.80 L310.00 385.50 L323.10 390.70 L346.20 397.60 L369.20 405.70 L392.30 412.60 L408.50 419.10 L420.00 421.40 L430.00 423.00 L446.20 425.80 L469.20 429.20 L485.40 430.40 L485.40 432.20 L510.80 432.20" stroke="#4646cc" stroke-width="1.15" fill="none" stroke-linejoin="round"/>
<path d="M382.50 409.67V407.87M388.88 411.58V409.78M390.66 412.11V410.31M398.57 415.12V413.32M402.91 416.86V415.06M405.88 418.05V416.25M414.25 420.25V418.45M416.79 420.76V418.96" stroke="#4646cc" stroke-width="0.9" fill="none"/>
<path d="M421.32 421.61V419.81M424.70 422.15V420.35M425.64 422.30V420.50M429.83 422.97V421.17M432.13 423.37V421.57M433.70 423.64V421.84M438.13 424.41V422.61M439.48 424.64V422.84M442.07 425.09V423.29M446.09 425.78V423.98M446.97 425.91V424.11M450.60 426.45V424.65M453.70 426.91V425.11M454.76 427.07V425.27M459.07 427.70V425.90M461.09 428.00V426.20M462.91 428.27V426.47M467.29 428.92V427.12M468.45 429.09V427.29M471.34 429.36V427.56M475.15 429.64V427.84M476.01 429.70V427.90M479.88 429.99V428.19M482.68 430.20V428.40M483.90 430.29V428.49M488.30 432.20V430.40M490.04 432.20V430.40M492.14 432.20V430.40M496.42 432.20V430.40M497.44 432.20V430.40M500.62 432.20V430.40M504.18 432.20V430.40M505.08 432.20V430.40M509.15 432.20V430.40" stroke="#4646cc" stroke-width="0.9" fill="none"/>
<path d="M301.70 381.80H309.70V397.60H314.30V405.20H321.90V412.60H326.50V420.70H328.80V428.30H332.30V436.20H336.50V444.20H342.70V451.80H365.80V459.20H375.00V467.00H464.60" stroke="#cf6868" stroke-width="1.15" fill="none"/>
<path d="M464.20 467.00V465.00" stroke="#cf6868" stroke-width="0.9" fill="none"/>
<text x="438.20" y="469.00" font-size="6.2" fill="#262626" stroke="#262626" stroke-width="0.22" textLength="19.90" lengthAdjust="spacingAndGlyphs">2-Year</text>
<text x="391.00" y="475.40" font-size="6.2" fill="#262626" stroke="#262626" stroke-width="0.22" textLength="31.20" lengthAdjust="spacingAndGlyphs">Deaths / N</text>
<text x="436.10" y="475.40" font-size="6.2" fill="#262626" stroke="#262626" stroke-width="0.22" textLength="25.80" lengthAdjust="spacingAndGlyphs">Estimate</text>
<text x="303.80" y="482.10" font-size="6.2" fill="#3838b4" stroke="#3838b4" stroke-width="0.22">a</text>
<text x="311.20" y="482.10" font-size="6.2" fill="#3838b4" stroke="#3838b4" stroke-width="0.22" textLength="65.30" lengthAdjust="spacingAndGlyphs">GEP80(BL) score low</text>
<text x="392.50" y="482.10" font-size="6.2" fill="#3838b4" stroke="#3838b4" stroke-width="0.22" textLength="27.80" lengthAdjust="spacingAndGlyphs">133 / 336</text>
<text x="428.10" y="482.10" font-size="6.2" fill="#3838b4" stroke="#3838b4" stroke-width="0.22" textLength="14.00" lengthAdjust="spacingAndGlyphs">88%</text>
<text x="445.10" y="482.10" font-size="6.2" fill="#3838b4" stroke="#3838b4" stroke-width="0.22" textLength="23.60" lengthAdjust="spacingAndGlyphs">(84, 91)</text>
<text x="303.80" y="488.10" font-size="6.2" fill="#c04242" stroke="#c04242" stroke-width="0.22">b</text>
<text x="311.20" y="488.10" font-size="6.2" fill="#c04242" stroke="#c04242" stroke-width="0.22" textLength="66.80" lengthAdjust="spacingAndGlyphs">GEP80(BL) score high</text>
<text x="395.90" y="488.40" font-size="6.2" fill="#c04242" stroke="#c04242" stroke-width="0.22" textLength="20.50" lengthAdjust="spacingAndGlyphs">11 / 15</text>
<text x="428.10" y="488.40" font-size="6.2" fill="#c04242" stroke="#c04242" stroke-width="0.22" textLength="14.00" lengthAdjust="spacingAndGlyphs">40%</text>
<text x="445.10" y="488.40" font-size="6.2" fill="#c04242" stroke="#c04242" stroke-width="0.22" textLength="23.60" lengthAdjust="spacingAndGlyphs">(16, 64)</text>
<text x="349.00" y="495.10" font-size="6.2" fill="#262626" stroke="#262626" stroke-width="0.22" textLength="73.80" lengthAdjust="spacingAndGlyphs">Logrank P-value &lt; .0001</text>
<text x="368.00" y="514.50" font-size="8" fill="#262626" stroke="#262626" stroke-width="0.22" textLength="76.40" lengthAdjust="spacingAndGlyphs">Years After Enrollment</text>
<text x="1.90" y="571.30" font-size="13.5" fill="#111" stroke="#111" stroke-width="0.35" font-weight="bold" textLength="9.20" lengthAdjust="spacingAndGlyphs">D</text>
<path d="M46.00 567.30V684.00" stroke="#727272" stroke-width="1.1" fill="none"/>
<path d="M41.50 684.00H46.00M43.50 672.33H46.00M41.50 660.66H46.00M43.50 648.99H46.00M41.50 637.32H46.00M43.50 625.65H46.00M41.50 613.98H46.00M43.50 602.31H46.00M41.50 590.64H46.00M43.50 578.97H46.00M41.50 567.30H46.00" stroke="#727272" stroke-width="1" fill="none"/>
<text x="39.30" y="687.00" font-size="7.7" fill="#262626" stroke="#262626" stroke-width="0.12" text-anchor="end" textLength="10.13" lengthAdjust="spacingAndGlyphs">0%</text>
<text x="39.30" y="663.66" font-size="7.7" fill="#262626" stroke="#262626" stroke-width="0.12" text-anchor="end" textLength="14.02" lengthAdjust="spacingAndGlyphs">20%</text>
<text x="39.30" y="640.32" font-size="7.7" fill="#262626" stroke="#262626" stroke-width="0.12" text-anchor="end" textLength="14.02" lengthAdjust="spacingAndGlyphs">40%</text>
<text x="39.30" y="616.98" font-size="7.7" fill="#262626" stroke="#262626" stroke-width="0.12" text-anchor="end" textLength="14.02" lengthAdjust="spacingAndGlyphs">60%</text>
<text x="39.30" y="593.64" font-size="7.7" fill="#262626" stroke="#262626" stroke-width="0.12" text-anchor="end" textLength="14.02" lengthAdjust="spacingAndGlyphs">80%</text>
<text x="39.30" y="570.30" font-size="7.7" fill="#262626" stroke="#262626" stroke-width="0.12" text-anchor="end" textLength="17.92" lengthAdjust="spacingAndGlyphs">100%</text>
<path d="M41.50 684.00H255.80" stroke="#727272" stroke-width="1.25" fill="none"/>
<path d="M46.00 684.00V686.80M66.98 684.00V686.80M87.96 684.00V686.80M108.94 684.00V686.80M129.92 684.00V686.80M150.90 684.00V686.80M171.88 684.00V686.80M192.86 684.00V686.80M213.84 684.00V686.80M234.82 684.00V686.80M255.80 684.00V686.80" stroke="#727272" stroke-width="1" fill="none"/>
<text x="46.00" y="693.50" font-size="8.0" fill="#262626" stroke="#262626" stroke-width="0.12" text-anchor="middle">0</text>
<text x="66.98" y="693.50" font-size="8.0" fill="#262626" stroke="#262626" stroke-width="0.12" text-anchor="middle">1</text>
<text x="87.96" y="693.50" font-size="8.0" fill="#262626" stroke="#262626" stroke-width="0.12" text-anchor="middle">2</text>
<text x="108.94" y="693.50" font-size="8.0" fill="#262626" stroke="#262626" stroke-width="0.12" text-anchor="middle">3</text>
<text x="129.92" y="693.50" font-size="8.0" fill="#262626" stroke="#262626" stroke-width="0.12" text-anchor="middle">4</text>
<text x="150.90" y="693.50" font-size="8.0" fill="#262626" stroke="#262626" stroke-width="0.12" text-anchor="middle">5</text>
<text x="171.88" y="693.50" font-size="8.0" fill="#262626" stroke="#262626" stroke-width="0.12" text-anchor="middle">6</text>
<text x="192.86" y="693.50" font-size="8.0" fill="#262626" stroke="#262626" stroke-width="0.12" text-anchor="middle">7</text>
<text x="213.84" y="693.50" font-size="8.0" fill="#262626" stroke="#262626" stroke-width="0.12" text-anchor="middle">8</text>
<text x="234.82" y="693.50" font-size="8.0" fill="#262626" stroke="#262626" stroke-width="0.12" text-anchor="middle">9</text>
<text x="255.80" y="693.50" font-size="8.0" fill="#262626" stroke="#262626" stroke-width="0.12" text-anchor="middle">10</text>
<text x="70.00" y="560.10" font-size="6.8" fill="#262626" stroke="#262626" stroke-width="0.05" textLength="161.30" lengthAdjust="spacingAndGlyphs">PFS by Thal+/- and GEP80(BL) score (UARK 98-026)</text>
<path d="M46.00 567.30 L55.00 571.70 L60.90 575.40 L69.90 579.90 L78.80 584.40 L86.00 589.60 L100.90 596.20 L111.70 601.50 L120.00 606.70 L133.50 614.20 L146.90 617.70 L160.40 619.60 L173.90 624.50 L184.60 629.80 L200.80 631.70 L215.60 633.60 L215.60 635.80 L254.60 635.80" stroke="#e6c266" stroke-width="1.15" fill="none" stroke-linejoin="round"/>
<path d="M131.72 613.21V611.41M136.12 614.88V613.08M137.34 615.20V613.40M142.79 616.63V614.83M145.78 617.41V615.61M147.83 617.83V616.03M153.59 618.64V616.84M155.35 618.89V617.09M158.72 619.36V617.56M163.95 620.89V619.09M165.09 621.30V619.50M169.82 623.02V621.22M173.85 624.48V622.68M175.23 625.16V623.36M180.84 627.94V626.14M183.46 629.24V627.44M185.84 629.94V628.14M191.53 630.61V628.81M193.05 630.79V628.99M196.81 631.23V629.43M201.76 631.82V630.02M202.88 631.97V630.17M207.92 632.61V630.81M211.56 633.08V631.28M213.15 633.28V631.48M218.87 635.80V634.00M221.14 635.80V634.00M223.87 635.80V634.00M229.44 635.80V634.00M230.76 635.80V634.00M234.91 635.80V634.00M239.54 635.80V634.00M240.70 635.80V634.00M246.00 635.80V634.00M249.26 635.80V634.00M251.10 635.80V634.00" stroke="#e6c266" stroke-width="0.9" fill="none"/>
<path d="M46.00 567.30H55.30V585.90H59.40V606.00H62.40V625.40H65.70V644.90H75.10V664.30H187.30" stroke="#8ab476" stroke-width="1.15" fill="none"/>
<path d="M46.00 567.30 L49.00 571.00 L55.00 574.70 L63.20 579.20 L65.40 582.20 L72.90 585.90 L77.30 589.60 L81.80 593.40 L86.00 597.10 L90.20 599.20 L100.90 605.40 L108.60 612.30 L120.00 622.80 L133.50 630.40 L146.90 636.30 L160.40 642.50 L173.90 646.50 L183.20 648.30 L194.60 650.40 L230.60 650.90 L230.60 659.60 L243.60 659.60" stroke="#4646cc" stroke-width="1.15" fill="none" stroke-linejoin="round"/>
<path d="M142.15 634.21V632.41M147.62 636.63V634.83M149.15 637.33V635.53M155.94 640.45V638.65M159.67 642.16V640.36M162.21 643.04V641.24M169.39 645.16V643.36M171.58 645.81V644.01M175.79 646.87V645.07M182.30 648.13V646.33M183.72 648.40V646.60M189.62 649.48V647.68M194.64 650.40V648.60M196.35 650.42V648.62M203.35 650.52V648.72M206.61 650.57V648.77M209.57 650.61V648.81M216.67 650.71V648.91M218.55 650.73V648.93M223.25 650.80V649.00M229.41 650.88V649.08M230.80 659.60V657.80M237.08 659.60V657.80M241.63 659.60V657.80" stroke="#4646cc" stroke-width="0.9" fill="none"/>
<path d="M46.00 567.30H55.30V579.90H62.40V592.60H71.70V605.60H79.10V619.00H80.60V632.20H119.40V644.60H140.40V657.70H184.00" stroke="#cf6868" stroke-width="1.15" fill="none"/>
<text x="193.80" y="648.10" font-size="6.2" fill="#262626" stroke="#262626" stroke-width="0.22" textLength="20.40" lengthAdjust="spacingAndGlyphs">2-Year</text>
<text x="127.30" y="654.70" font-size="6.2" fill="#262626" stroke="#262626" stroke-width="0.22" textLength="49.50" lengthAdjust="spacingAndGlyphs">Progressions / N</text>
<text x="191.30" y="654.40" font-size="6.2" fill="#262626" stroke="#262626" stroke-width="0.22" textLength="26.50" lengthAdjust="spacingAndGlyphs">Estimate</text>
<text x="48.20" y="661.20" font-size="6.2" fill="#3838b4" stroke="#3838b4" stroke-width="0.22">a</text>
<text x="55.90" y="661.20" font-size="6.2" fill="#3838b4" stroke="#3838b4" stroke-width="0.22" textLength="61.60" lengthAdjust="spacingAndGlyphs">Thal- / GEP80(BL)-L</text>
<text x="139.60" y="661.10" font-size="6.2" fill="#3838b4" stroke="#3838b4" stroke-width="0.22" textLength="26.20" lengthAdjust="spacingAndGlyphs">121 / 170</text>
<text x="184.00" y="661.50" font-size="6.2" fill="#3838b4" stroke="#3838b4" stroke-width="0.22" textLength="13.50" lengthAdjust="spacingAndGlyphs">74%</text>
<text x="200.80" y="661.50" font-size="6.2" fill="#3838b4" stroke="#3838b4" stroke-width="0.22" textLength="23.20" lengthAdjust="spacingAndGlyphs">(67, 81)</text>
<text x="48.20" y="667.30" font-size="6.2" fill="#6a9e54" stroke="#6a9e54" stroke-width="0.22">b</text>
<text x="55.90" y="667.30" font-size="6.2" fill="#6a9e54" stroke="#6a9e54" stroke-width="0.22" textLength="62.60" lengthAdjust="spacingAndGlyphs">Thal- / GEP80(BL)-H</text>
<text x="145.80" y="667.70" font-size="6.2" fill="#6a9e54" stroke="#6a9e54" stroke-width="0.22" textLength="13.80" lengthAdjust="spacingAndGlyphs">5 / 6</text>
<text x="184.00" y="667.20" font-size="6.2" fill="#6a9e54" stroke="#6a9e54" stroke-width="0.22" textLength="13.50" lengthAdjust="spacingAndGlyphs">17%</text>
<text x="200.80" y="667.20" font-size="6.2" fill="#6a9e54" stroke="#6a9e54" stroke-width="0.22" textLength="21.60" lengthAdjust="spacingAndGlyphs">(0, 46)</text>
<text x="48.20" y="673.40" font-size="6.2" fill="#ecbe70" stroke="#ecbe70" stroke-width="0.22">c</text>
<text x="56.40" y="673.40" font-size="6.2" fill="#ecbe70" stroke="#ecbe70" stroke-width="0.22" textLength="62.60" lengthAdjust="spacingAndGlyphs">Thal+ / GEP80(BL)-L</text>
<text x="140.40" y="673.90" font-size="6.2" fill="#ecbe70" stroke="#ecbe70" stroke-width="0.22" textLength="24.10" lengthAdjust="spacingAndGlyphs">91 / 168</text>
<text x="184.00" y="673.20" font-size="6.2" fill="#ecbe70" stroke="#ecbe70" stroke-width="0.22" textLength="13.50" lengthAdjust="spacingAndGlyphs">80%</text>
<text x="200.80" y="673.20" font-size="6.2" fill="#ecbe70" stroke="#ecbe70" stroke-width="0.22" textLength="23.20" lengthAdjust="spacingAndGlyphs">(73, 86)</text>
<text x="48.20" y="679.80" font-size="6.2" fill="#c04242" stroke="#c04242" stroke-width="0.22">d</text>
<text x="56.40" y="679.80" font-size="6.2" fill="#c04242" stroke="#c04242" stroke-width="0.22" textLength="64.40" lengthAdjust="spacingAndGlyphs">Thal+ / GEP80(BL)-H</text>
<text x="145.80" y="680.00" font-size="6.2" fill="#c04242" stroke="#c04242" stroke-width="0.22" textLength="13.80" lengthAdjust="spacingAndGlyphs">7 / 9</text>
<text x="184.00" y="679.80" font-size="6.2" fill="#c04242" stroke="#c04242" stroke-width="0.22" textLength="13.50" lengthAdjust="spacingAndGlyphs">44%</text>
<text x="200.80" y="679.80" font-size="6.2" fill="#c04242" stroke="#c04242" stroke-width="0.22" textLength="23.20" lengthAdjust="spacingAndGlyphs">(14, 75)</text>
<text x="113.00" y="699.80" font-size="8" fill="#262626" stroke="#262626" stroke-width="0.22" textLength="76.10" lengthAdjust="spacingAndGlyphs">Years After Enrollment</text>
<path d="M305.50 567.60V684.00" stroke="#727272" stroke-width="1.1" fill="none"/>
<path d="M301.00 684.00H305.50M303.00 672.36H305.50M301.00 660.72H305.50M303.00 649.08H305.50M301.00 637.44H305.50M303.00 625.80H305.50M301.00 614.16H305.50M303.00 602.52H305.50M301.00 590.88H305.50M303.00 579.24H305.50M301.00 567.60H305.50" stroke="#727272" stroke-width="1" fill="none"/>
<text x="298.80" y="687.00" font-size="7.7" fill="#262626" stroke="#262626" stroke-width="0.12" text-anchor="end" textLength="10.13" lengthAdjust="spacingAndGlyphs">0%</text>
<text x="298.80" y="663.72" font-size="7.7" fill="#262626" stroke="#262626" stroke-width="0.12" text-anchor="end" textLength="14.02" lengthAdjust="spacingAndGlyphs">20%</text>
<text x="298.80" y="640.44" font-size="7.7" fill="#262626" stroke="#262626" stroke-width="0.12" text-anchor="end" textLength="14.02" lengthAdjust="spacingAndGlyphs">40%</text>
<text x="298.80" y="617.16" font-size="7.7" fill="#262626" stroke="#262626" stroke-width="0.12" text-anchor="end" textLength="14.02" lengthAdjust="spacingAndGlyphs">60%</text>
<text x="298.80" y="593.88" font-size="7.7" fill="#262626" stroke="#262626" stroke-width="0.12" text-anchor="end" textLength="14.02" lengthAdjust="spacingAndGlyphs">80%</text>
<text x="298.80" y="570.60" font-size="7.7" fill="#262626" stroke="#262626" stroke-width="0.12" text-anchor="end" textLength="17.92" lengthAdjust="spacingAndGlyphs">100%</text>
<path d="M301.00 684.00H515.50" stroke="#727272" stroke-width="1.25" fill="none"/>
<path d="M305.50 684.00V686.80M326.50 684.00V686.80M347.50 684.00V686.80M368.50 684.00V686.80M389.50 684.00V686.80M410.50 684.00V686.80M431.50 684.00V686.80M452.50 684.00V686.80M473.50 684.00V686.80M494.50 684.00V686.80M515.50 684.00V686.80" stroke="#727272" stroke-width="1" fill="none"/>
<text x="305.50" y="693.50" font-size="8.0" fill="#262626" stroke="#262626" stroke-width="0.12" text-anchor="middle">0</text>
<text x="326.50" y="693.50" font-size="8.0" fill="#262626" stroke="#262626" stroke-width="0.12" text-anchor="middle">1</text>
<text x="347.50" y="693.50" font-size="8.0" fill="#262626" stroke="#262626" stroke-width="0.12" text-anchor="middle">2</text>
<text x="368.50" y="693.50" font-size="8.0" fill="#262626" stroke="#262626" stroke-width="0.12" text-anchor="middle">3</text>
<text x="389.50" y="693.50" font-size="8.0" fill="#262626" stroke="#262626" stroke-width="0.12" text-anchor="middle">4</text>
<text x="410.50" y="693.50" font-size="8.0" fill="#262626" stroke="#262626" stroke-width="0.12" text-anchor="middle">5</text>
<text x="431.50" y="693.50" font-size="8.0" fill="#262626" stroke="#262626" stroke-width="0.12" text-anchor="middle">6</text>
<text x="452.50" y="693.50" font-size="8.0" fill="#262626" stroke="#262626" stroke-width="0.12" text-anchor="middle">7</text>
<text x="473.50" y="693.50" font-size="8.0" fill="#262626" stroke="#262626" stroke-width="0.12" text-anchor="middle">8</text>
<text x="494.50" y="693.50" font-size="8.0" fill="#262626" stroke="#262626" stroke-width="0.12" text-anchor="middle">9</text>
<text x="515.50" y="693.50" font-size="8.0" fill="#262626" stroke="#262626" stroke-width="0.12" text-anchor="middle">10</text>
<text x="331.20" y="560.50" font-size="6.8" fill="#262626" stroke="#262626" stroke-width="0.05" textLength="158.80" lengthAdjust="spacingAndGlyphs">OS by Thal+/- and GEP80(BL) score (UARK 98-026)</text>
<path d="M305.50 567.60 L313.80 570.40 L330.00 578.50 L341.50 583.10 L357.70 588.80 L369.20 591.20 L378.50 593.50 L392.30 596.90 L400.00 600.00 L411.50 602.30 L441.50 602.30 L446.20 604.60 L462.30 606.50 L471.50 609.20 L473.80 611.50 L514.20 611.50" stroke="#e6c266" stroke-width="1.15" fill="none" stroke-linejoin="round"/>
<path d="M401.78 600.36V598.56M406.33 601.27V599.47M407.60 601.52V599.72M413.23 602.30V600.50M416.33 602.30V600.50M418.44 602.30V600.50M424.40 602.30V600.50M426.22 602.30V600.50M429.71 602.30V600.50M435.11 602.30V600.50M436.29 602.30V600.50M441.19 602.30V600.50M445.35 604.19V602.39M446.78 604.67V602.87M452.59 605.35V603.55M455.29 605.67V603.87M457.75 605.96V604.16M463.64 606.89V605.09M465.21 607.35V605.55M469.10 608.50V606.70M474.22 611.50V609.70M475.38 611.50V609.70M480.59 611.50V609.70M484.36 611.50V609.70M486.00 611.50V609.70M491.92 611.50V609.70M494.26 611.50V609.70M497.09 611.50V609.70M502.85 611.50V609.70M504.22 611.50V609.70M508.50 611.50V609.70M513.30 611.50V609.70" stroke="#e6c266" stroke-width="0.9" fill="none"/>
<path d="M305.50 567.60H314.30V587.20H318.50V606.60H325.40V625.80H336.50V645.40H369.20V665.00H462.80" stroke="#8ab476" stroke-width="1.15" fill="none"/>
<path d="M305.50 567.60 L313.80 570.40 L325.40 576.20 L339.20 577.30 L350.80 580.30 L364.60 585.40 L378.50 592.30 L392.30 596.50 L400.00 601.20 L413.80 605.80 L427.70 611.50 L436.90 616.20 L457.70 618.50 L488.80 618.50 L488.80 624.90 L511.90 624.90" stroke="#4646cc" stroke-width="1.15" fill="none" stroke-linejoin="round"/>
<path d="M411.80 605.13V603.33M416.41 606.87V605.07M417.69 607.40V605.60M423.40 609.74V607.94M426.53 611.02V609.22M428.67 612.00V610.20M434.71 615.08V613.28M436.54 616.02V614.22M440.08 616.55V614.75M445.55 617.16V615.36M446.75 617.29V615.49M451.70 617.84V616.04M455.92 618.30V616.50M457.36 618.46V616.66M463.25 618.50V616.70M465.99 618.50V616.70M468.47 618.50V616.70M474.44 618.50V616.70M476.02 618.50V616.70M479.97 618.50V616.70M485.15 618.50V616.70M486.32 618.50V616.70M491.60 624.90V623.10M495.42 624.90V623.10M497.07 624.90V623.10M503.07 624.90V623.10M505.44 624.90V623.10M508.30 624.90V623.10" stroke="#4646cc" stroke-width="0.9" fill="none"/>
<path d="M305.50 567.60 L313.80 570.40 L320.00 573.60 L326.00 576.20" stroke="#48485a" stroke-width="1.2" fill="none" stroke-linejoin="round"/>
<path d="M305.50 567.60H314.30V580.80H331.20V593.50H332.30V606.20H340.40V619.50H347.30V632.70H379.60V645.20H440.00" stroke="#cf6868" stroke-width="1.15" fill="none"/>
<text x="439.50" y="647.20" font-size="6.2" fill="#262626" stroke="#262626" stroke-width="0.22" textLength="19.80" lengthAdjust="spacingAndGlyphs">2-Year</text>
<text x="391.10" y="654.60" font-size="6.2" fill="#262626" stroke="#262626" stroke-width="0.22" textLength="32.30" lengthAdjust="spacingAndGlyphs">Deaths / N</text>
<text x="437.10" y="654.60" font-size="6.2" fill="#262626" stroke="#262626" stroke-width="0.22" textLength="25.70" lengthAdjust="spacingAndGlyphs">Estimate</text>
<text x="308.80" y="661.20" font-size="6.2" fill="#3838b4" stroke="#3838b4" stroke-width="0.22">a</text>
<text x="315.70" y="661.20" font-size="6.2" fill="#3838b4" stroke="#3838b4" stroke-width="0.22" textLength="60.50" lengthAdjust="spacingAndGlyphs">Thal- / GEP80(BL)-L</text>
<text x="394.70" y="660.90" font-size="6.2" fill="#3838b4" stroke="#3838b4" stroke-width="0.22" textLength="24.60" lengthAdjust="spacingAndGlyphs">75 / 170</text>
<text x="428.40" y="660.90" font-size="6.2" fill="#3838b4" stroke="#3838b4" stroke-width="0.22" textLength="14.00" lengthAdjust="spacingAndGlyphs">90%</text>
<text x="445.40" y="660.90" font-size="6.2" fill="#3838b4" stroke="#3838b4" stroke-width="0.22" textLength="24.00" lengthAdjust="spacingAndGlyphs">(85, 95)</text>
<text x="308.80" y="667.40" font-size="6.2" fill="#6a9e54" stroke="#6a9e54" stroke-width="0.22">b</text>
<text x="315.70" y="667.40" font-size="6.2" fill="#6a9e54" stroke="#6a9e54" stroke-width="0.22" textLength="61.50" lengthAdjust="spacingAndGlyphs">Thal- / GEP80(BL)-H</text>
<text x="400.80" y="667.70" font-size="6.2" fill="#6a9e54" stroke="#6a9e54" stroke-width="0.22" textLength="13.50" lengthAdjust="spacingAndGlyphs">5 / 6</text>
<text x="428.40" y="667.70" font-size="6.2" fill="#6a9e54" stroke="#6a9e54" stroke-width="0.22" textLength="14.00" lengthAdjust="spacingAndGlyphs">33%</text>
<text x="445.40" y="667.70" font-size="6.2" fill="#6a9e54" stroke="#6a9e54" stroke-width="0.22" textLength="19.40" lengthAdjust="spacingAndGlyphs">(4, 60)</text>
<text x="308.80" y="673.40" font-size="6.2" fill="#ecbe70" stroke="#ecbe70" stroke-width="0.22">c</text>
<text x="316.20" y="673.40" font-size="6.2" fill="#ecbe70" stroke="#ecbe70" stroke-width="0.22" textLength="61.50" lengthAdjust="spacingAndGlyphs">Thal+ / GEP80(BL)-L</text>
<text x="395.10" y="673.80" font-size="6.2" fill="#ecbe70" stroke="#ecbe70" stroke-width="0.22" textLength="23.80" lengthAdjust="spacingAndGlyphs">58 / 168</text>
<text x="428.40" y="673.80" font-size="6.2" fill="#ecbe70" stroke="#ecbe70" stroke-width="0.22" textLength="14.00" lengthAdjust="spacingAndGlyphs">85%</text>
<text x="445.40" y="673.80" font-size="6.2" fill="#ecbe70" stroke="#ecbe70" stroke-width="0.22" textLength="21.40" lengthAdjust="spacingAndGlyphs">(79, 90)</text>
<text x="308.80" y="680.30" font-size="6.2" fill="#c04242" stroke="#c04242" stroke-width="0.22">d</text>
<text x="316.20" y="680.30" font-size="6.2" fill="#c04242" stroke="#c04242" stroke-width="0.22" textLength="62.50" lengthAdjust="spacingAndGlyphs">Thal+ / GEP80(BL)-H</text>
<text x="400.80" y="679.80" font-size="6.2" fill="#c04242" stroke="#c04242" stroke-width="0.22" textLength="13.50" lengthAdjust="spacingAndGlyphs">6 / 9</text>
<text x="428.40" y="679.80" font-size="6.2" fill="#c04242" stroke="#c04242" stroke-width="0.22" textLength="14.00" lengthAdjust="spacingAndGlyphs">44%</text>
<text x="445.40" y="679.80" font-size="6.2" fill="#c04242" stroke="#c04242" stroke-width="0.22" textLength="24.00" lengthAdjust="spacingAndGlyphs">(14, 75)</text>
<text x="373.00" y="699.80" font-size="8" fill="#262626" stroke="#262626" stroke-width="0.22" textLength="75.10" lengthAdjust="spacingAndGlyphs">Years After Enrollment</text>
</svg></body></html>
